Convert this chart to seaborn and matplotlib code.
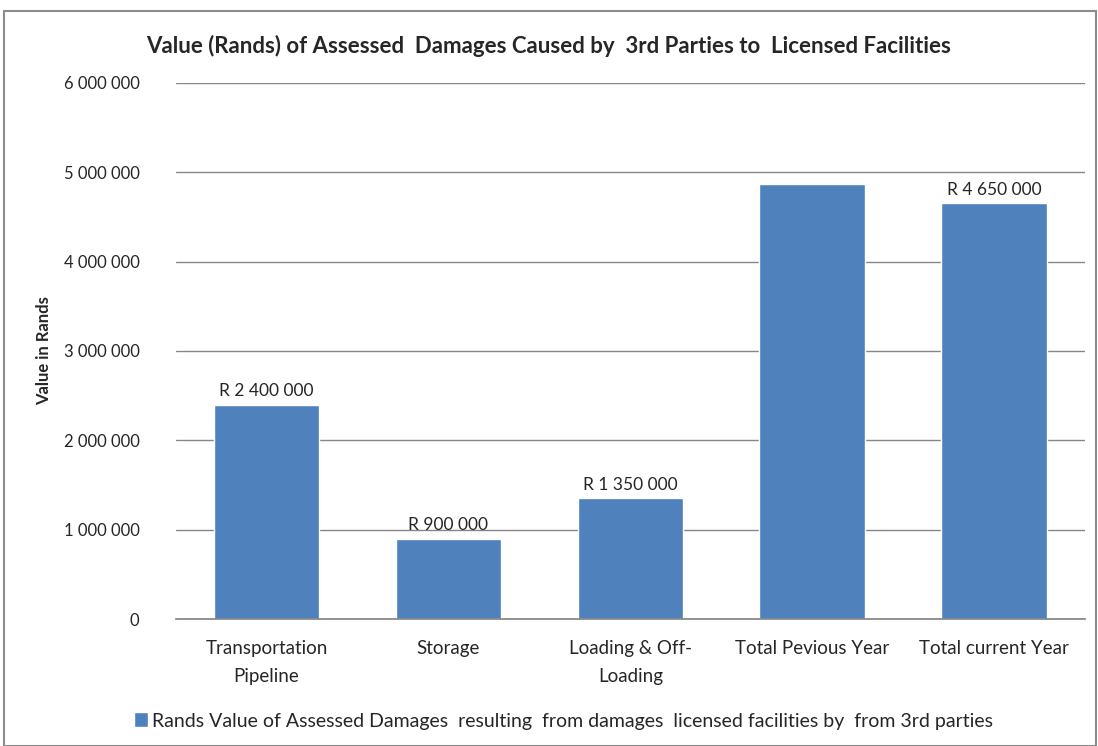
import matplotlib
matplotlib.use("Agg")
import matplotlib.pyplot as plt
import seaborn as sns
import pandas as pd
from matplotlib.patches import Rectangle

categories = ["Transportation\nPipeline", "Storage", "Loading & Off-\nLoading", "Total Pevious Year", "Total current Year"]
values = [2400000, 900000, 1350000, 4870000, 4650000]
bar_labels = ["R 2 400 000", "R 900 000", "R 1 350 000", "", "R 4 650 000"]
yticks = [0, 1000000, 2000000, 3000000, 4000000, 5000000, 6000000]
ytick_labels = ["0", "1 000 000", "2 000 000", "3 000 000", "4 000 000", "5 000 000", "6 000 000"]
series_name = "Rands Value of Assessed Damages  resulting  from damages  licensed facilities by  from 3rd parties"

sns.set_theme(style="white")
plt.rcParams["font.family"] = ["Lato", "DejaVu Sans"]

df = pd.DataFrame({"cat": categories, "val": values, "series": series_name})

fig = plt.figure(figsize=(10.98, 7.46), dpi=100)
ax = fig.add_axes([0.160, 0.170, 0.828, 0.719])
sns.barplot(data=df, x="cat", y="val", hue="series", palette=["#4F81BD"], width=0.58,
            ax=ax, legend=True, saturation=1)

ax.set_ylim(0, 6000000)
ax.set_yticks(yticks)
ax.set_yticklabels(ytick_labels, fontsize=12)
ax.yaxis.grid(True, color="#868686", linewidth=1)
ax.set_axisbelow(True)
for s in ["top", "right", "left"]:
    ax.spines[s].set_visible(False)
ax.spines["bottom"].set_color("#868686")
ax.tick_params(axis="x", labelsize=13.5, length=0, pad=15)
for t in ax.get_xticklabels():
    t.set_linespacing(1.75)
ax.tick_params(axis="y", length=0, pad=26)
ax.set_xlabel("")
ax.set_ylabel("Value in Rands", fontsize=12, fontweight="bold", labelpad=8)

for cont in ax.containers:
    ax.bar_label(cont, labels=bar_labels, fontsize=12.5, padding=4)

fig.text(0.5, 1 - 46 / 746, "Value (Rands) of Assessed  Damages Caused by  3rd Parties to  Licensed Facilities",
         fontsize=16, fontweight="bold", ha="center", va="center")

handles, labels = ax.get_legend_handles_labels()
ax.get_legend().remove()
fig.legend(handles, labels, loc="center", bbox_to_anchor=(0.513, 1 - 721 / 746), frameon=False,
           fontsize=14, handlelength=0.7, handleheight=0.8, handletextpad=0.2)

fig.patches.append(Rectangle((4 / 1098, 0.0), 1092 / 1098, 1 - 11 / 746, transform=fig.transFigure,
                             fill=False, edgecolor="#8c8c8c", linewidth=1.5))

fig.savefig("out.png", dpi=100)
